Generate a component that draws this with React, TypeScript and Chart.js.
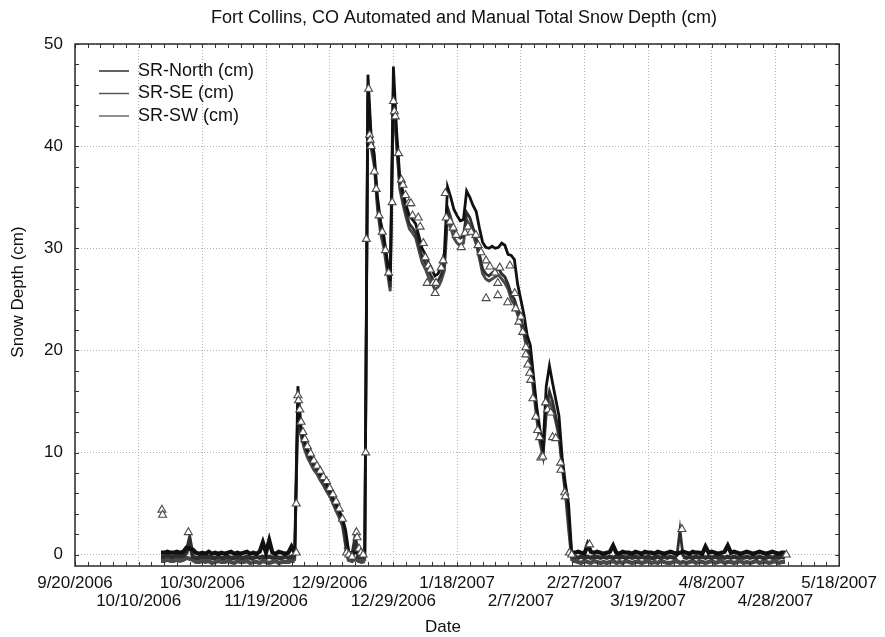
import React, { useEffect, useRef } from 'react';
import { Chart, registerables } from 'chart.js';

Chart.register(...registerables);

const FONT = '"Liberation Sans", Arial, Helvetica, sans-serif';

const CHART_TITLE = 'Fort Collins, CO Automated and Manual Total Snow Depth (cm)';
const X_TITLE = 'Date';
const Y_TITLE = 'Snow Depth (cm)';

// x axis: days after 9/20/2006, one labelled tick every 20 days
const X_TICK_LABELS = [
  '9/20/2006', '10/10/2006', '10/30/2006', '11/19/2006', '12/9/2006', '12/29/2006',
  '1/18/2007', '2/7/2007', '2/27/2007', '3/19/2007', '4/8/2007', '4/28/2007', '5/18/2007',
];
const X_MIN = 0;
const X_MAX = 240;
const X_STEP = 20;
const X_MINOR_STEP = 4;
const Y_TICKS = [0, 10, 20, 30, 40, 50];
const Y_MIN = -1.1;
const Y_MAX = 50;
const Y_MINOR_STEP = 2;

const SERIES_LABELS = ['SR-North (cm)', 'SR-SE (cm)', 'SR-SW (cm)'];
const SERIES_COLORS = ['#101010', '#2e2e2e', '#484848'];
const LEGEND_COLORS = ['#303030', '#555555', '#6a6a6a'];

// daily sensor readings, first value = day 27 (10/17/2006)
const FIRST_DAY = 27;
const SR_NORTH = [
  0.2, 0.2, 0.3, 0.2, 0.2, 0.3, 0.2, 0.3, 0.7, 0.6,
  0.5, 0.2, 0.1, 0.2, 0.1, 0.3, 0.1, 0.2, 0.1, 0.2,
  0.1, 0.2, 0.3, 0.1, 0.2, 0.1, 0.2, 0.3, 0.1, 0.2,
  0.1, 0.3, 1.2, 0.2, 1.4, 0.2, 0.1, 0.3, 0.2, 0.1,
  0.2, 0.8, 0.2, 16.5, 12.5, 11.2, 10.3, 9.7, 9.1, 8.6,
  8.0, 7.5, 7.0, 6.3, 5.6, 5.0, 4.3, 3.6, 2.4, 0.2,
  0.1, 0.3, 0.2, 0.1, 0.2, 47.0, 41.0, 39.2, 35.0, 32.6,
  31.2, 29.0, 26.8, 47.8, 41.5, 37.0, 35.5, 34.2, 33.2, 32.8,
  32.4, 31.2, 30.0, 29.4, 28.6, 28.0, 27.3, 27.5, 28.2, 29.5,
  36.0, 35.0, 33.8, 33.2, 32.7, 32.8, 35.6, 35.0, 34.2, 33.6,
  32.0, 30.6, 30.1, 30.0, 30.2, 30.0, 30.1, 30.5, 30.3, 29.4,
  29.3, 28.9, 26.5, 25.0, 23.5, 21.5, 20.5, 17.5, 14.5, 12.3,
  10.5, 16.5, 18.5, 16.8, 15.2, 13.6, 9.5, 7.0, 5.0, 0.2,
  0.2, 0.3, 0.2, 0.1, 1.0, 0.3, 0.2, 0.3, 0.2, 0.1,
  0.2, 0.3, 0.9, 0.2, 0.1, 0.3, 0.2, 0.2, 0.1, 0.3,
  0.2, 0.1, 0.3, 0.2, 0.2, 0.1, 0.3, 0.2, 0.1, 0.2,
  0.3, 0.2, 0.1, 0.2, 0.3, 0.2, 0.1, 0.3, 0.2, 0.2,
  0.1, 0.8, 0.2, 0.3, 0.2, 0.1, 0.2, 0.3, 0.9, 0.2,
  0.3, 0.2, 0.1, 0.2, 0.3, 0.2, 0.1, 0.2, 0.3, 0.2,
  0.1, 0.2, 0.3, 0.2, 0.1, 0.2, 0.2,
];
const SR_SE = [
  -0.2, -0.2, -0.1, -0.2, -0.2, -0.1, -0.2, -0.1, 0.2, 1.5,
  -0.2, -0.3, -0.3, -0.2, -0.3, -0.2, -0.3, -0.3, -0.2, -0.3,
  -0.3, -0.2, -0.3, -0.3, -0.2, -0.3, -0.3, -0.2, -0.3, -0.3,
  -0.2, -0.3, -0.2, -0.3, -0.2, -0.3, -0.2, -0.3, -0.3, -0.2,
  -0.3, -0.2, -0.3, 14.8, 12.0, 10.8, 9.9, 9.3, 8.7, 8.2,
  7.7, 7.1, 6.6, 6.0, 5.3, 4.6, 4.0, 3.2, 1.5, -0.2,
  -0.3, 1.5, -0.2, -0.3, -0.2, 45.8, 40.3, 38.5, 34.3, 32.0,
  30.6, 28.4, 26.2, 46.0, 40.5, 36.3, 34.8, 33.5, 32.4, 32.0,
  31.5, 30.3, 29.2, 28.6, 27.8, 27.2, 26.5, 26.8, 27.4, 28.5,
  34.0, 33.0, 31.8, 31.2, 31.0, 31.2, 33.5, 33.0, 32.0, 31.0,
  29.5, 28.0, 27.5, 27.3, 27.6, 27.8, 28.0, 27.5, 27.2, 26.5,
  25.5, 25.0, 24.0, 23.2, 22.0, 20.5, 19.5, 16.5, 14.0, 11.5,
  10.0, 14.5, 16.0, 15.0, 13.5, 12.0, 8.8, 6.5, 3.5, -0.2,
  -0.2, -0.3, -0.2, -0.3, -0.2, -0.3, -0.2, -0.2, -0.3, -0.2,
  -0.3, -0.2, -0.3, -0.2, -0.3, -0.2, -0.3, -0.2, -0.3, -0.2,
  -0.3, -0.2, -0.3, -0.2, -0.3, -0.3, -0.2, -0.3, -0.2, -0.3,
  -0.2, -0.3, -0.2, 2.4, -0.2, -0.3, -0.2, -0.3, -0.2, -0.3,
  -0.2, -0.3, -0.2, -0.3, -0.2, -0.3, -0.2, -0.3, -0.2, -0.3,
  -0.2, -0.3, -0.2, -0.3, -0.2, -0.3, -0.2, -0.3, -0.2, -0.3,
  -0.3, -0.2, -0.3, -0.2, -0.3, -0.2, -0.3,
];
const SR_SW = [
  -0.6, -0.6, -0.5, -0.6, -0.6, -0.5, -0.6, -0.5, -0.3, -0.4,
  -0.5, -0.7, -0.7, -0.6, -0.7, -0.6, -0.8, -0.7, -0.6, -0.7,
  -0.7, -0.6, -0.7, -0.8, -0.6, -0.7, -0.7, -0.6, -0.8, -0.7,
  -0.7, -0.8, -0.6, -0.7, -0.8, -0.7, -0.6, -0.8, -0.7, -0.7,
  -0.7, -0.6, -0.6, 14.2, 11.6, 10.4, 9.5, 8.9, 8.3, 7.9,
  7.3, 6.8, 6.2, 5.7, 5.0, 4.3, 3.6, 2.8, 0.8, -0.5,
  -0.6, -0.4, -0.6, -0.7, -0.6, 44.8, 39.8, 38.0, 33.8, 31.4,
  30.0, 27.8, 25.8, 45.0, 40.0, 35.8, 34.3, 33.0, 31.9, 31.5,
  31.0, 29.8, 28.6, 28.0, 27.2, 26.6, 26.0, 26.2, 26.8, 27.8,
  33.0, 32.0, 31.0, 30.5, 30.3, 30.5, 32.8, 32.2, 31.3, 30.4,
  29.0, 27.5, 27.0, 26.8, 27.0, 27.2, 27.4, 27.0, 26.6, 26.0,
  25.0, 24.5, 23.5, 22.6, 21.5, 20.0, 18.8, 16.0, 13.3, 11.0,
  9.6, 13.8, 15.0, 14.3, 13.0, 11.5, 8.5, 6.0, 2.5, -0.6,
  -0.6, -0.7, -0.8, -0.6, -0.7, -0.8, -0.6, -0.7, -0.8, -0.7,
  -0.8, -0.7, -0.6, -0.8, -0.7, -0.8, -0.6, -0.7, -0.8, -0.7,
  -0.7, -0.8, -0.7, -0.6, -0.8, -0.7, -0.8, -0.6, -0.7, -0.8,
  -0.8, -0.7, -0.6, -0.8, -0.7, -0.8, -0.7, -0.6, -0.8, -0.7,
  -0.7, -0.8, -0.7, -0.6, -0.8, -0.7, -0.6, -0.8, -0.7, -0.7,
  -0.8, -0.7, -0.6, -0.8, -0.7, -0.8, -0.7, -0.6, -0.8, -0.7,
  -0.7, -0.8, -0.7, -0.6, -0.8, -0.7, -0.7,
];

// manual observations (triangles): day after 9/20/2006 and depth
const MANUAL_DAYS = [
  27.3, 27.5, 35.6, 69.5, 69.5, 70.0, 70.2, 70.6, 71.0, 71.6, 72.2, 73.0, 74.0, 75.0, 76.0,
  77.0, 78.0, 79.0, 80.0, 81.0, 82.0, 83.0, 84.0, 85.3, 86.0, 87.0, 88.4, 88.6, 89.2, 89.8,
  90.5, 91.3, 91.5, 92.2, 92.5, 92.7, 93.0, 94.0, 94.6, 95.5, 96.5, 97.5, 98.5, 99.6, 100.0,
  100.3, 100.6, 101.6, 102.5, 103.0, 103.8, 104.8, 105.5, 106.0, 107.8, 108.4, 109.4, 110.0, 110.6, 111.0,
  111.6, 112.5, 113.1, 113.4, 115.0, 115.6, 116.3, 116.6, 117.8, 118.8, 119.7, 121.3, 122.5, 123.4, 124.4,
  125.9, 126.6, 127.5, 129.1, 129.1, 130.3, 131.9, 132.8, 132.8, 133.4, 135.9, 136.6, 138.1, 138.4, 139.4,
  140.0, 140.6, 141.6, 141.6, 142.2, 142.8, 143.1, 143.8, 144.7, 145.3, 145.9, 146.3, 146.9, 147.8, 148.4,
  149.4, 150.0, 151.0, 152.5, 152.6, 153.8, 154.0, 155.3, 156.0, 161.6, 190.6, 223.4,
];
const MANUAL_DEPTHS = [
  4.4, 3.9, 2.2, 0.2, 5.0, 15.6, 15.1, 14.2, 13.0, 12.0, 11.3, 10.6, 9.9, 9.2, 8.7,
  8.2, 7.6, 7.2, 6.5, 5.9, 5.2, 4.5, 3.5, 0.2, 0.0, -0.2, 2.2, 1.7, 0.6, 0.2,
  0.0, 10.0, 30.9, 45.6, 41.1, 40.6, 40.0, 37.5, 35.8, 33.2, 31.6, 29.8, 27.6, 34.5, 44.4,
  43.4, 42.9, 39.3, 36.7, 36.2, 35.2, 34.4, 34.4, 33.2, 33.0, 32.1, 30.5, 29.1, 26.6, 28.3,
  27.9, 26.6, 25.6, 26.6, 28.1, 28.8, 35.4, 33.0, 32.6, 32.0, 31.3, 30.1, 31.5, 32.1, 31.6,
  31.3, 30.3, 29.6, 28.8, 25.1, 28.2, 27.6, 26.6, 25.4, 28.1, 24.7, 28.3, 25.6, 24.1, 22.8,
  23.3, 21.8, 20.3, 19.6, 18.6, 17.8, 17.1, 15.3, 13.5, 12.2, 11.5, 9.5, 9.6, 14.9, 14.2,
  13.9, 11.5, 11.4, 9.0, 8.3, 6.1, 5.7, 0.2, 0.0, 1.0, 2.5, 0.0,
];

const toPoints = (values: number[]) => values.map((v, i) => ({ x: FIRST_DAY + i, y: v }));

const decorPlugin = {
  id: 'decor',
  afterDraw(chart: any) {
    const { ctx, chartArea: a, scales } = chart;
    const xs = scales.x;
    const ys = scales.y;
    ctx.save();
    // inward ticks on all four sides
    ctx.strokeStyle = '#333';
    ctx.lineWidth = 1;
    ctx.beginPath();
    for (let d = X_MIN; d <= X_MAX; d += X_MINOR_STEP) {
      const px = Math.round(xs.getPixelForValue(d)) + 0.5;
      ctx.moveTo(px, a.bottom);
      ctx.lineTo(px, a.bottom - 4);
      ctx.moveTo(px, a.top);
      ctx.lineTo(px, a.top + 4);
    }
    for (let v = Y_TICKS[0]; v <= Y_TICKS[Y_TICKS.length - 1]; v += Y_MINOR_STEP) {
      const py = Math.round(ys.getPixelForValue(v)) + 0.5;
      ctx.moveTo(a.left, py);
      ctx.lineTo(a.left + 4, py);
      ctx.moveTo(a.right, py);
      ctx.lineTo(a.right - 4, py);
    }
    ctx.stroke();
    // frame
    ctx.strokeStyle = '#2a2a2a';
    ctx.lineWidth = 1.5;
    ctx.strokeRect(a.left, a.top, a.right - a.left, a.bottom - a.top);

    // titles
    ctx.fillStyle = '#111';
    ctx.textAlign = 'center';
    ctx.textBaseline = 'middle';
    ctx.font = `18px ${FONT}`;
    ctx.fillText(CHART_TITLE, 464, 18);
    ctx.font = `17px ${FONT}`;
    ctx.fillText(X_TITLE, 443, 627);
    ctx.save();
    ctx.translate(18, 292);
    ctx.rotate(-Math.PI / 2);
    ctx.fillText(Y_TITLE, 0, 0);
    ctx.restore();

    // legend (sensor series only)
    ctx.font = `18px ${FONT}`;
    ctx.textAlign = 'left';
    SERIES_LABELS.forEach((label, i) => {
      const yy = a.top + 27 + i * 22.5;
      ctx.strokeStyle = LEGEND_COLORS[i];
      ctx.lineWidth = 1.5;
      ctx.beginPath();
      ctx.moveTo(a.left + 24, yy);
      ctx.lineTo(a.left + 54, yy);
      ctx.stroke();
      ctx.fillStyle = '#111';
      ctx.fillText(label, a.left + 63, yy);
    });
    ctx.restore();
  },
};

export default function App() {
  const canvasRef = useRef<HTMLCanvasElement | null>(null);

  useEffect(() => {
    const canvas = canvasRef.current;
    if (!canvas) return;
    const gridOpts = { color: '#b4b4b4', lineWidth: 1, drawTicks: false };
    const borderOpts = { display: false, dash: [1, 2] };
    const lineDataset = (i: number, values: number[]) => ({
      label: SERIES_LABELS[i],
      data: toPoints(values),
      borderColor: SERIES_COLORS[i],
      borderWidth: 2.8,
      pointRadius: 0,
      order: i + 1,
      // the noisy bare-ground readings form a thick dark band in the original
      segment: {
        borderWidth: (c: any) => (c.p0.parsed.y < 1.6 && c.p1.parsed.y < 1.6 ? 4.2 : 2.8),
      },
    });
    const chart = new Chart(canvas, {
      type: 'line',
      data: {
        datasets: [
          {
            label: 'Manual',
            data: MANUAL_DAYS.map((d, i) => ({ x: d, y: MANUAL_DEPTHS[i] })),
            showLine: false,
            pointStyle: 'triangle',
            pointRadius: 4.6,
            pointBackgroundColor: '#ffffff',
            pointBorderColor: '#4a4a4a',
            pointBorderWidth: 1.1,
            order: 0,
          },
          lineDataset(0, SR_NORTH),
          lineDataset(1, SR_SE),
          lineDataset(2, SR_SW),
        ] as any,
      },
      options: {
        animation: false,
        responsive: false,
        events: [],
        layout: { padding: { top: 44, right: 42, bottom: 0, left: 0 } },
        plugins: {
          legend: { display: false },
          title: { display: false },
          tooltip: { enabled: false },
        },
        scales: {
          x: {
            type: 'linear',
            min: X_MIN,
            max: X_MAX,
            afterFit: (s: any) => {
              s.height = 71;
            },
            ticks: {
              stepSize: X_STEP,
              autoSkip: false,
              maxRotation: 0,
              minRotation: 0,
              padding: 8,
              color: '#111',
              font: { family: FONT, size: 17, lineHeight: 1.08 },
              callback: (_v: any, i: number) =>
                i % 2 === 0 ? X_TICK_LABELS[i] : ['', X_TICK_LABELS[i]],
            },
            grid: gridOpts,
            border: borderOpts,
          },
          y: {
            type: 'linear',
            min: Y_MIN,
            max: Y_MAX,
            afterBuildTicks: (s: any) => {
              s.ticks = Y_TICKS.map((v) => ({ value: v }));
            },
            afterFit: (s: any) => {
              s.width = 75;
            },
            ticks: {
              padding: 12,
              color: '#111',
              font: { family: FONT, size: 17 },
            },
            grid: gridOpts,
            border: borderOpts,
          },
        },
      } as any,
      plugins: [decorPlugin],
    });
    return () => chart.destroy();
  }, []);

  return (
    <div style={{ position: 'absolute', left: 0, top: 0, width: 885, height: 637, background: '#fff' }}>
      <canvas ref={canvasRef} width={885} height={637} style={{ display: 'block' }} />
    </div>
  );
}
